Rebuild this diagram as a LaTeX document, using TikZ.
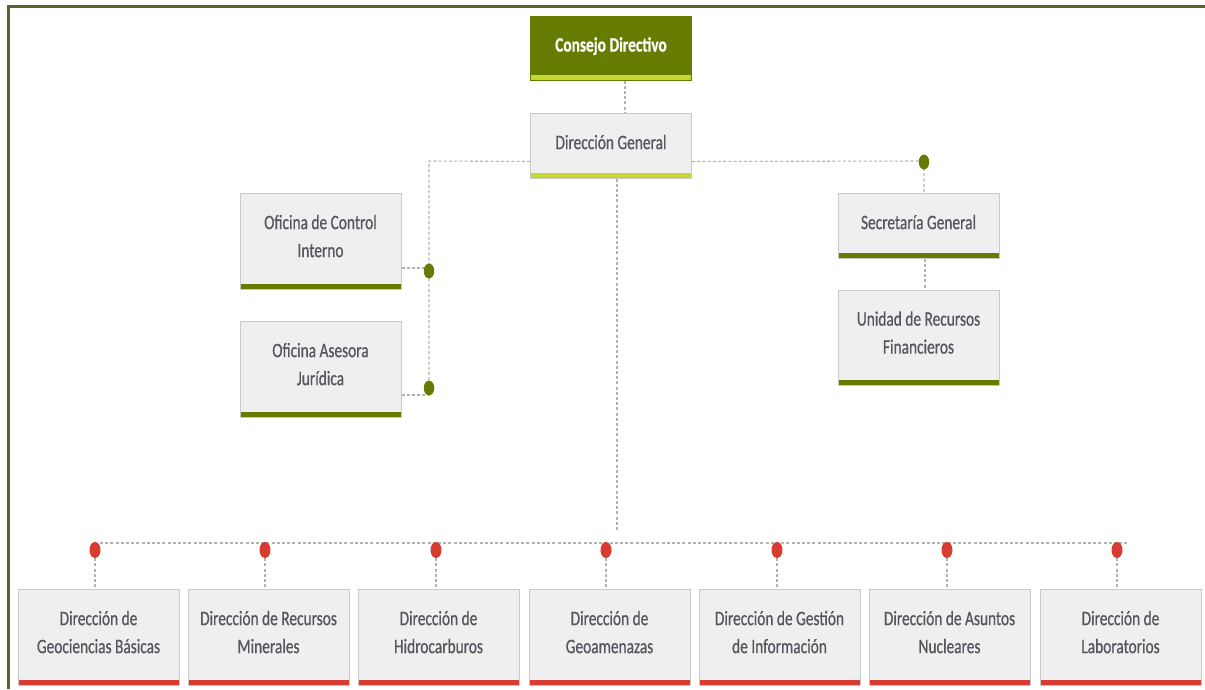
\documentclass[tikz,border=0pt]{standalone}
\usepackage{fontspec}
\setmainfont{Carlito}[FakeStretch=0.75,FakeBold=0.6]
\usetikzlibrary{shapes.geometric}
\definecolor{olive}{HTML}{657C00}
\definecolor{lime}{HTML}{C5D932}
\definecolor{redc}{HTML}{D83B30}
\definecolor{boxfill}{HTML}{EFEFEF}
\definecolor{boxline}{HTML}{C9C9C9}
\definecolor{txt}{HTML}{55565E}
\definecolor{frame}{HTML}{4E6A2A}
\definecolor{dashc}{HTML}{B3B3B3}
\newcommand\boxtext[2][7pt]{\raisebox{0pt}[\height][\dimexpr\depth+#1\relax]{\begin{tabular}{@{}c@{}}#2\end{tabular}}}
\tikzset{
  orgbox/.style={rectangle, minimum width=161pt, inner sep=0pt, fill=boxfill, draw=boxline, line width=1pt,
    text=txt, font=\fontsize{20.5}{28}\selectfont,
    path picture={\fill[#1] ([yshift=-1pt]path picture bounding box.south west) rectangle ([yshift=5.5pt]path picture bounding box.south east);}},
  dashline/.style={draw=dashc, line width=1.1pt, dash pattern=on 3pt off 2.2pt},
  gdot/.style={ellipse, fill=olive, minimum width=10.5pt, minimum height=15pt, inner sep=0pt},
  rdot/.style={ellipse, fill=redc, minimum width=11pt, minimum height=16pt, inner sep=0pt},
}
\begin{document}
\begin{tikzpicture}[x=1pt,y=-1pt]
\useasboundingbox (0,0) rectangle (1205,689);
% frame
\draw[frame, line width=3pt] (8,689) -- (8,6) -- (1205,6);
% boxes
\node[orgbox=lime, fill=olive, draw=olive, text=white, font=\fontsize{20.5}{28}\selectfont\bfseries, minimum height=64pt] (cd) at (611,48) {\boxtext[4pt]{Consejo Directivo}};
\node[orgbox=lime, minimum height=65pt] (dg) at (611,145.5) {\boxtext[4pt]{Dirección General}};
\node[orgbox=olive, minimum height=96pt] (oci) at (320.5,241) {\boxtext{Oficina de Control\\Interno}};
\node[orgbox=olive, minimum height=96pt] (oaj) at (320.5,369) {\boxtext{Oficina Asesora\\Jurídica}};
\node[orgbox=olive, minimum height=65pt] (sg) at (918.5,225.5) {\boxtext[4pt]{Secretaría General}};
\node[orgbox=olive, minimum height=95pt] (urf) at (918.5,337.5) {\boxtext{Unidad de Recursos\\Financieros}};
\node[orgbox=redc, minimum height=96pt] (b1) at (98.5,637) {\boxtext{Dirección de\\Geociencias Básicas}};
\node[orgbox=redc, minimum height=96pt] (b2) at (268.5,637) {\boxtext{Dirección de Recursos\\Minerales}};
\node[orgbox=redc, minimum height=96pt] (b3) at (438.5,637) {\boxtext{Dirección de\\Hidrocarburos}};
\node[orgbox=redc, minimum height=96pt] (b4) at (609.5,637) {\boxtext{Dirección de\\Geoamenazas}};
\node[orgbox=redc, minimum height=96pt] (b5) at (779.5,637) {\boxtext{Dirección de Gestión\\de Información}};
\node[orgbox=redc, minimum height=96pt] (b6) at (949.5,637) {\boxtext{Dirección de Asuntos\\Nucleares}};
\node[orgbox=redc, minimum height=96pt] (b7) at (1120.5,637) {\boxtext{Dirección de\\Laboratorios}};
% junction coordinates
\coordinate (lc) at (429,161);
\coordinate (lb) at (429,395);
\coordinate (bc) at (617,532);
\coordinate (hl) at (100,543);
\coordinate (hr) at (1127,543);
% connectors
\draw[dashline] ([xshift=14pt]cd.south) -- ([xshift=14pt]dg.north);
\draw[dashline] ([yshift=-16pt]dg.west) -- (lc) -- (lb);
\draw[dashline] ([yshift=-27pt]oci.east) -- (429,268);
\draw[dashline] ([yshift=-26pt]oaj.east) -- (lb);
\draw[dashline] ([yshift=-16pt]dg.east) -- (924,161) -- ([xshift=5.5pt]sg.north);
\draw[dashline] ([xshift=6.5pt]sg.south) -- ([xshift=6.5pt]urf.north);
\draw[dashline] ([xshift=6pt]dg.south) -- (bc);
\draw[dashline] (hl) -- (hr);
% dots
\node[gdot] (g1) at (429,271) {};
\node[gdot] (g2) at (429,388) {};
\node[gdot] (g3) at (924,162) {};
\foreach \i/\x in {1/95,2/265,3/436,4/606,5/777,6/947,7/1117} {
  \node[rdot] (r\i) at (\x,550) {};
  \draw[dashline] (r\i.south) -- (r\i.south |- b\i.north);
}
\end{tikzpicture}
\end{document}
